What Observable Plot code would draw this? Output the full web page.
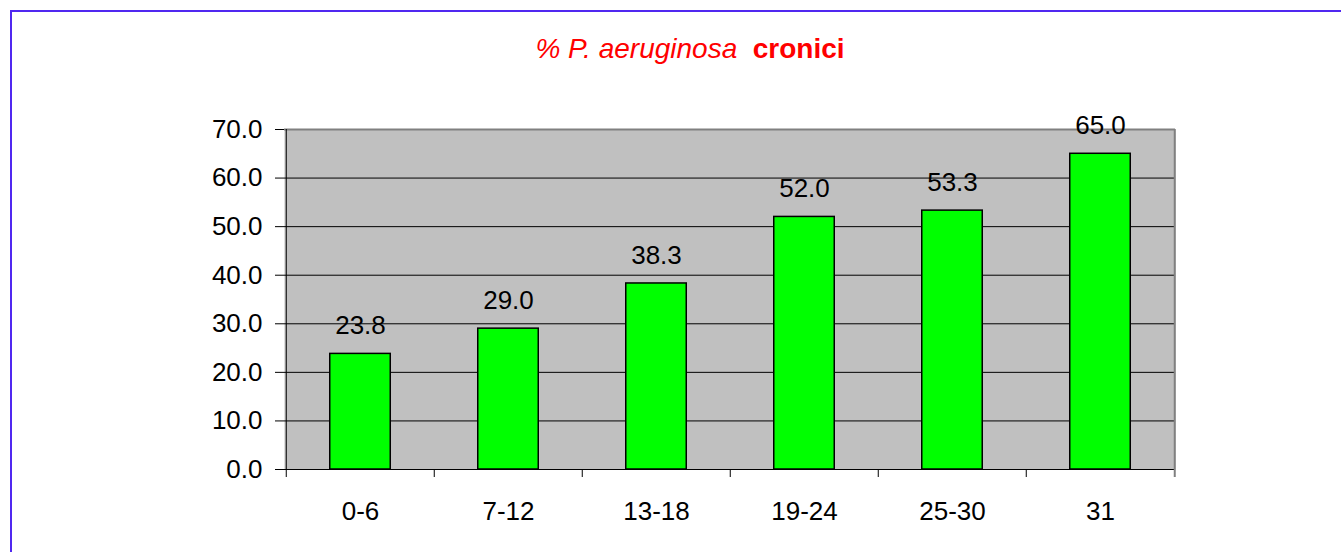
<!DOCTYPE html>
<html>
<head>
<meta charset="utf-8">
<script src="https://cdn.jsdelivr.net/npm/d3@7"></script>
<script src="https://cdn.jsdelivr.net/npm/@observablehq/plot@0.6"></script>
<style>
  html, body { margin: 0; padding: 0; background: #fff; overflow: hidden; }
  #wrap { position: relative; width: 1341px; height: 552px; overflow: hidden; font-family: "Liberation Sans", Arial, sans-serif; }
  #frame { position: absolute; left: 10px; top: 10px; width: 1400px; height: 600px; border: 2px solid rgb(80,40,240); box-sizing: border-box; }
  #title { position: absolute; left: 0; width: 1380px; top: 35px; text-align: center; font-size: 28px; line-height: 28px; color: #ff0000; white-space: pre; }
  #title i { font-style: italic; }
  #title b { font-weight: bold; }
  #chart { position: absolute; left: 0; top: 0; }
</style>
</head>
<body>
<div id="wrap">
  <div id="frame"></div>
  <div id="chart"></div>
  <div id="title"><i>% P. aeruginosa</i>  <b>cronici</b></div>
</div>
<script>
const categories = ["0-6", "7-12", "13-18", "19-24", "25-30", "31"];
const values = [23.8, 29.0, 38.3, 52.0, 53.3, 65.0];
const yTicks = [0, 10, 20, 30, 40, 50, 60, 70];

const data = categories.map((c, i) => ({cat: c, v: values[i]}));

const W = 1341, H = 552;
const mL = 284, mR = 166, mT = 129, mB = 83;
const bw = (W - mL - mR) / categories.length;
const plotH = H - mT - mB;
const fmt = d3.format(".1f");
const FS = 26;

const chart = Plot.plot({
  width: W,
  height: H,
  marginLeft: mL,
  marginRight: mR,
  marginTop: mT,
  marginBottom: mB,
  style: {fontFamily: "'Liberation Sans', Arial, sans-serif", fontSize: FS + "px", background: "transparent", color: "#000"},
  x: {type: "band", domain: categories, padding: 0, label: null},
  y: {domain: [0, 70], label: null},
  marks: [
    Plot.frame({fill: "#c0c0c0"}),
    Plot.ruleY(yTicks.filter(t => t > 0 && t < 70), {stroke: "#000", strokeWidth: 1}),
    Plot.ruleY([70], {stroke: "#808080", strokeWidth: 2}),
    Plot.barY(data, {x: "cat", y: "v", fill: "#00ff00", stroke: "#000", strokeWidth: 1.5, insetLeft: bw/2 - 30.5, insetRight: bw/2 - 30.5}),
    Plot.ruleY([0], {stroke: "#000", strokeWidth: 1}),
    Plot.tickX([categories[0]], {x: d => d, dx: -bw/2, stroke: "#000", strokeWidth: 1, insetBottom: -8}),
    Plot.tickX(categories.slice(1), {x: d => d, dx: -bw/2, stroke: "#000", strokeWidth: 1, insetTop: plotH, insetBottom: -8}),
    Plot.tickX([categories[categories.length - 1]], {x: d => d, dx: bw/2, stroke: "#808080", strokeWidth: 2, insetBottom: -8}),
    Plot.axisY({ticks: yTicks, tickFormat: fmt, tickSize: 9, tickPadding: 13, fontSize: FS, stroke: "#000", label: null}),
    Plot.axisX({tickSize: 0, tickPadding: 32, fontSize: FS, label: null}),
    Plot.text(data, {x: "cat", y: "v", text: d => fmt(d.v), dy: -28, lineAnchor: "middle", fontSize: FS, fill: "#000"})
  ]
});
document.getElementById("chart").appendChild(chart);
</script>
</body>
</html>
